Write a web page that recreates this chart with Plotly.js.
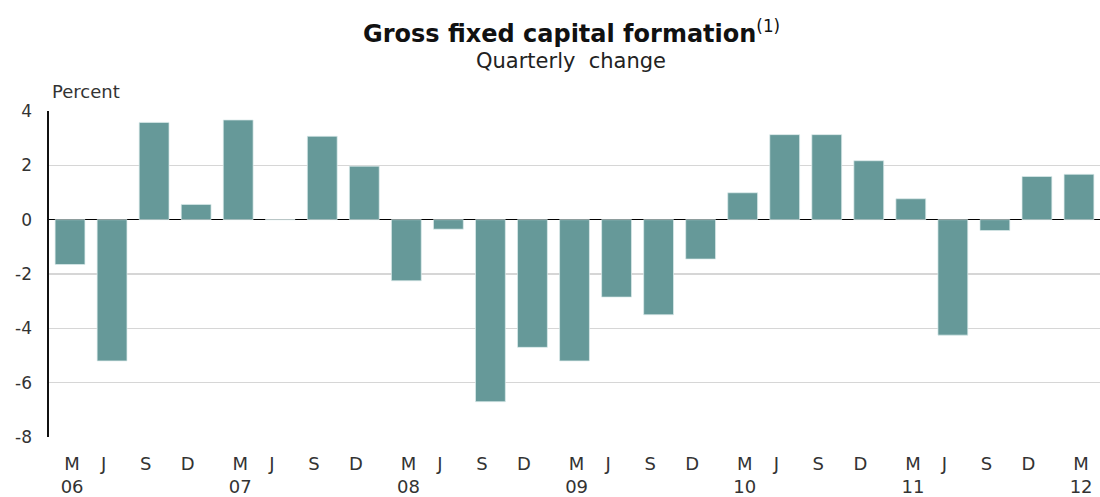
<!DOCTYPE html>
<html>
<head>
<meta charset="utf-8">
<script src="https://cdn.plot.ly/plotly-3.0.1.min.js"></script>
<style>
html, body { margin: 0; padding: 0; background: #fff; }
#chart { width: 1100px; height: 497px; }
</style>
</head>
<body>
<div id="chart"></div>
<script>
// Quarter labels (month of quarter end) and year labels
var quarters = ["M","J","S","D","M","J","S","D","M","J","S","D","M","J","S","D","M","J","S","D","M","J","S","D","M"];
var years    = ["06","","","","07","","","","08","","","","09","","","","10","","","","11","","","","12"];
// Quarterly change in gross fixed capital formation, percent
var values = [-1.65, -5.2, 3.58, 0.56, 3.67, 0, 3.07, 1.97, -2.25, -0.35, -6.7, -4.7,
              -5.2, -2.85, -3.5, -1.45, 0.99, 3.13, 3.13, 2.17, 0.77, -4.25, -0.4, 1.59, 1.67];
var yTicks = [-8, -6, -4, -2, 0, 2, 4];

var FONT = "DejaVu Sans, Liberation Sans, Arial, sans-serif";

var xIdx = values.map(function (v, i) { return i; });
var tickPos = quarters.map(function (q, i) { return i + (q === "M" ? 0.05 : -0.2); });
var tickTxt = quarters.map(function (q, i) { return years[i] ? q + "<br>" + years[i] : q; });

var trace = {
  type: "bar",
  x: xIdx,
  y: values,
  marker: { color: "#669999", line: { color: "rgba(220,235,235,0.9)", width: 0.8 } },
  hoverinfo: "y"
};

var layout = {
  width: 1100,
  height: 497,
  margin: { l: 49, r: 0, t: 111, b: 60, pad: 0 },
  paper_bgcolor: "#ffffff",
  plot_bgcolor: "#ffffff",
  showlegend: false,
  bargap: 0.29,
  font: { family: FONT, color: "#333333" },
  xaxis: {
    type: "linear",
    range: [-0.5, 24.5],
    tickmode: "array",
    tickvals: tickPos,
    ticktext: tickTxt,
    ticks: "",
    showgrid: false,
    zeroline: false,
    showline: false,
    tickfont: { family: FONT, size: 18, color: "#333333" },
    ticklabelstandoff: 14,
    fixedrange: true
  },
  yaxis: {
    range: [-8, 4],
    tickmode: "array",
    tickvals: yTicks,
    ticktext: yTicks.map(String),
    ticks: "",
    showgrid: true,
    gridcolor: "#d6d6d6",
    gridwidth: 1.2,
    zeroline: true,
    zerolinecolor: "#000000",
    zerolinewidth: 1.6,
    showline: true,
    linecolor: "#111111",
    linewidth: 1.6,
    tickfont: { family: FONT, size: 17, color: "#333333" },
    ticklabelstandoff: 12,
    fixedrange: true
  },
  annotations: [
    {
      text: "<b>Gross fixed capital formation</b><sup>(1)</sup>",
      xref: "paper", yref: "paper", x: 0.497, y: 1, yshift: 79,
      xanchor: "center", yanchor: "middle", showarrow: false,
      font: { family: FONT, size: 24, color: "#111111" }
    },
    {
      text: "Quarterly  change",
      xref: "paper", yref: "paper", x: 0.497, y: 1, yshift: 50,
      xanchor: "center", yanchor: "middle", showarrow: false,
      font: { family: FONT, size: 21, color: "#222222" }
    },
    {
      text: "Percent",
      xref: "paper", yref: "paper", x: 0, y: 1, xshift: 1, yshift: 20,
      xanchor: "left", yanchor: "middle", showarrow: false,
      font: { family: FONT, size: 18, color: "#333333" }
    }
  ]
};

Plotly.newPlot("chart", [trace], layout, { displayModeBar: false, staticPlot: true });
</script>
</body>
</html>
